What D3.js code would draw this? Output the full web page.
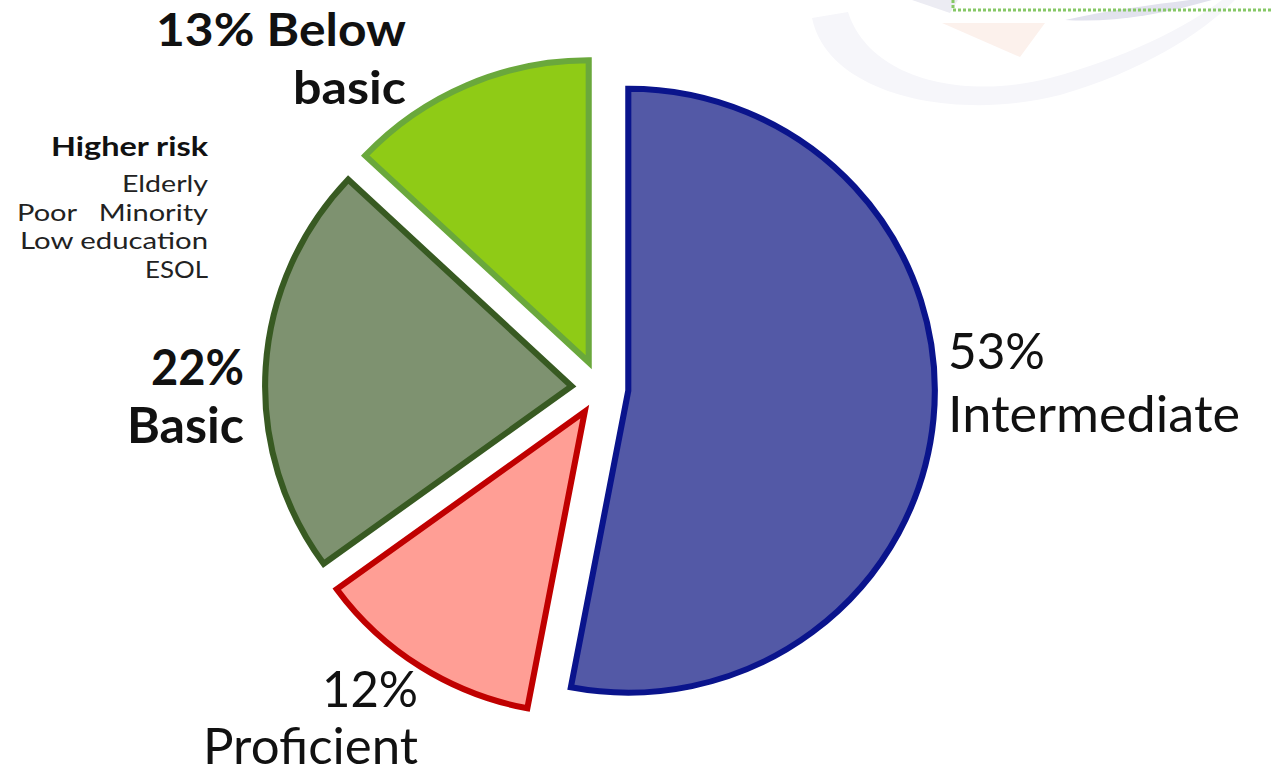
<!DOCTYPE html>
<html>
<head>
<meta charset="utf-8">
<script src="https://cdn.jsdelivr.net/npm/d3@7"></script>
<style>
html,body{margin:0;padding:0;background:#fff;}
svg{display:block;}
text{font-family:Lato,"Open Sans",sans-serif;fill:#111;}
</style>
</head>
<body>
<svg id="chart" width="1271" height="775"></svg>
<script>
// ---- data ----
const categories = ["Intermediate", "Proficient", "Basic", "Below basic"];
const values = [53, 12, 22, 13];
const fills = ["#5359a6", "#ff9e95", "#7e9270", "#8fcb16"];
const strokes = ["#0a148c", "#c00000", "#385a22", "#6aa83c"];
const riskTitle = "Higher risk";
const riskLines = ["Elderly", "Poor   Minority", "Low education", "ESOL"];

const svg = d3.select("#chart");
const W = 1271, H = 775;

// faint watermark (background decoration)
const wm = svg.append("g");
wm.append("path")
  .attr("d", "M 812 18 C 828 95, 955 122, 1060 95 C 1140 72, 1200 35, 1235 0 L 1222 0 C 1185 28, 1125 58, 1050 78 C 965 100, 870 80, 848 12 Z")
  .attr("fill", "#f6f6fa");
wm.append("path")
  .attr("d", "M 942 23 L 1045 23 L 1020 57 Z")
  .attr("fill", "#fcf1ec");
wm.append("path")
  .attr("d", "M 912 0 L 958 0 L 950 13 Z")
  .attr("fill", "#ececf3");
wm.append("path")
  .attr("d", "M 1065 20 C 1110 10, 1150 5, 1190 0 L 1212 0 C 1160 15, 1110 23, 1065 20 Z")
  .attr("fill", "#e2e2ee");

// dotted green border at top right
svg.append("path")
  .attr("d", `M 953 0 L 953 10 L ${W} 10`)
  .attr("fill", "none")
  .attr("stroke", "#86c866")
  .attr("stroke-width", 3)
  .attr("stroke-dasharray", "3,2");

// ---- pie ----
const cx = 600, cy = 388, R = 302, explode = 28;
const pie = d3.pie().sort(null).value(d => d).startAngle(0).endAngle(2 * Math.PI);
const arcs = pie(values);
const arc = d3.arc().innerRadius(0).outerRadius(R);

const g = svg.append("g").attr("transform", `translate(${cx},${cy}) scale(1.015,1)`);
g.selectAll("path.slice")
  .data(arcs)
  .join("path")
  .attr("class", "slice")
  .attr("d", arc)
  .attr("transform", d => {
    const m = (d.startAngle + d.endAngle) / 2;
    return `translate(${Math.sin(m) * explode},${-Math.cos(m) * explode})`;
  })
  .attr("fill", (d, i) => fills[i])
  .attr("stroke", (d, i) => strokes[i])
  .attr("stroke-width", 6)
  .attr("stroke-linejoin", "miter");

// ---- labels ----
// each line: [text, width]
function label(lines, x, y0, lh, anchor, size, weight, fill) {
  const t = svg.append("text")
    .attr("text-anchor", anchor)
    .attr("font-size", size)
    .attr("font-weight", weight)
    .style("fill", fill || "#111");
  lines.forEach(([s, w], i) => {
    t.append("tspan")
      .attr("x", x).attr("y", y0 + i * lh)
      .attr("xml:space", "preserve")
      .attr("textLength", w)
      .attr("lengthAdjust", "spacingAndGlyphs")
      .text(s);
  });
}
// Below basic
label([[values[3] + "% Below", 250], ["basic", 113]], 406, 46, 58, "end", 46, "bold");
// Basic
label([[values[2] + "%", 93], [categories[2], 117]], 244, 385, 58, "end", 49, "bold");
// Intermediate
label([[values[0] + "%", 97], [categories[0], 292]], 948, 369, 63, "start", 50, "normal");
// Proficient
label([[values[1] + "%", 96], [categories[1], 215]], 418, 707, 57, "end", 50, "normal");

// Higher risk annotation
label([[riskTitle, 157]], 208, 156, 0, "end", 27, "bold");
label([[riskLines[0], 86], [riskLines[1], 191], [riskLines[2], 188], [riskLines[3], 63]],
      208, 192, 28.7, "end", 24, "normal", "#222");
</script>
</body>
</html>
